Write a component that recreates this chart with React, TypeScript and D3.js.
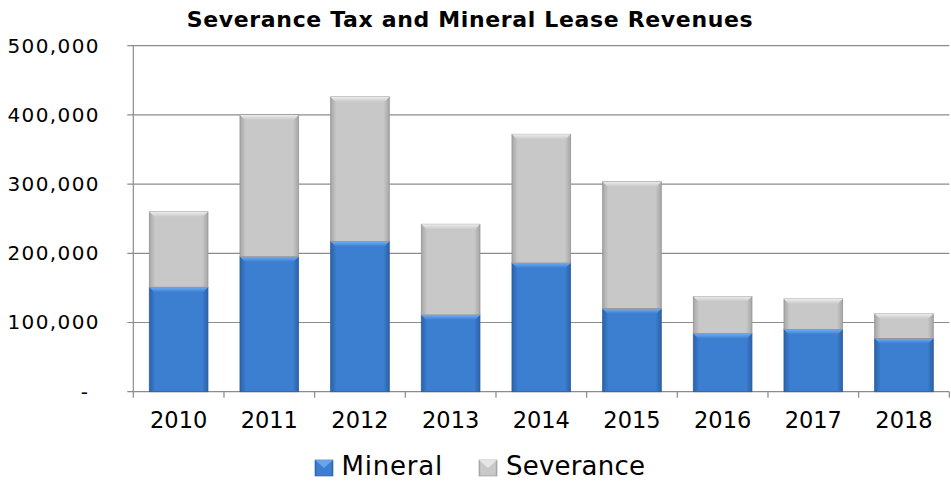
import React from "react";
import * as d3 from "d3";

const years = ["2010", "2011", "2012", "2013", "2014", "2015", "2016", "2017", "2018"];
const mineral = [151000, 195000, 217000, 111000, 186000, 120000, 84000, 90000, 77000];
const severance = [109000, 205000, 209000, 131000, 186000, 183500, 53500, 44000, 35500];
const seriesNames = ["Mineral", "Severance"];
const yTicks = [0, 100000, 200000, 300000, 400000, 500000];
const title = "Severance Tax and Mineral Lease Revenues";

const W = 951;
const H = 481;
const left = 133.3;
const right = 949.3;
const top = 45.7;
const bottom = 391.7;

const font = "'DejaVu Sans', sans-serif";

const palette = {
  Mineral: { base: "#3c7ed0", dark: "#2a62a8", light: "#70aef2", edge: "#2d5f9e" },
  Severance: { base: "#c8c8c8", dark: "#a6a6a6", light: "#ececec", edge: "#959595" },
};

export default function App() {
  const x = d3.scaleBand<string>().domain(years).range([left, right]).paddingInner(0.353).paddingOuter(0.1765);
  const y = d3.scaleLinear().domain([0, 500000]).range([bottom, top]);

  const rows = years.map((yr, i) => ({ year: yr, Mineral: mineral[i], Severance: severance[i] }));
  const stack = d3.stack<any>().keys(seriesNames);
  const layers = stack(rows);

  const fmt = (v: number) => (v === 0 ? "-" : d3.format(",")(v));
  const step = x.step();
  const b = 5;

  return (
    <svg width={W} height={H} style={{ position: "absolute", left: 0, top: 0, background: "#fff" }}>
      <defs>
        {seriesNames.map((k) => {
          const p = (palette as any)[k];
          return (
            <g key={k}>
              <linearGradient id={`h-${k}`} x1="0" x2="1" y1="0" y2="0">
                <stop offset="0" stopColor={p.dark} />
                <stop offset="0.1" stopColor={p.base} />
                <stop offset="0.9" stopColor={p.base} />
                <stop offset="1" stopColor={p.dark} />
              </linearGradient>
              <linearGradient id={`t-${k}`} x1="0" x2="0" y1="0" y2="1">
                <stop offset="0" stopColor={p.light} />
                <stop offset="1" stopColor={p.base} />
              </linearGradient>
            </g>
          );
        })}
      </defs>

      {yTicks.map((t) => (
        <line key={t} x1={left - 6} x2={right} y1={y(t)} y2={y(t)} stroke="#8c8c8c" strokeWidth={1.2} />
      ))}
      <line x1={left} x2={left} y1={top} y2={bottom} stroke="#8c8c8c" strokeWidth={1.2} />
      {years.map((yr) => (
        <line key={yr} x1={(x(yr) as number) - (x.paddingInner() * step) / 2} x2={(x(yr) as number) - (x.paddingInner() * step) / 2} y1={bottom} y2={bottom + 6} stroke="#8c8c8c" strokeWidth={1.2} />
      ))}
      <line x1={right} x2={right} y1={bottom} y2={bottom + 6} stroke="#8c8c8c" strokeWidth={1.2} />

      {layers.map((layer) => {
        const k = layer.key;
        const p = (palette as any)[k];
        return (
          <g key={k}>
            {layer.map((d: any) => {
              const x0 = x(d.data.year) as number;
              const w = x.bandwidth();
              const x1 = x0 + w;
              const y0 = y(d[1]);
              const y1 = y(d[0]);
              return (
                <g key={d.data.year}>
                  <rect x={x0} y={y0} width={w} height={y1 - y0} fill={`url(#h-${k})`} stroke={p.edge} strokeWidth={0.8} />
                  <polygon
                    points={`${x0},${y0} ${x1},${y0} ${x1 - b},${y0 + b} ${x0 + b},${y0 + b}`}
                    fill={`url(#t-${k})`}
                  />
                </g>
              );
            })}
          </g>
        );
      })}

      {yTicks.map((t) => (
        <text
          key={t}
          x={t === 0 ? 88 : 100}
          y={y(t) + 6.8}
          textAnchor="end"
          fontFamily={font}
          fontSize={20}
          letterSpacing={t === 0 ? 0 : 1.4}
          fill="#000"
        >
          {fmt(t)}
        </text>
      ))}

      {years.map((yr) => (
        <text
          key={yr}
          x={(x(yr) as number) + x.bandwidth() / 2}
          y={428.3}
          textAnchor="middle"
          fontFamily={font}
          fontSize={22.5}
          fill="#000"
        >
          {yr}
        </text>
      ))}

      <text x={469.7} y={27} textAnchor="middle" fontFamily={font} fontWeight="bold" fontSize={22} textLength={566} lengthAdjust="spacing" fill="#000">
        {title}
      </text>

      {seriesNames.map((k, i) => {
        const p = (palette as any)[k];
        const bx = i === 0 ? 315 : 479;
        const tx = i === 0 ? 341.5 : 506;
        return (
          <g key={k}>
            <rect x={bx} y={460} width={18} height={16} fill={`url(#h-${k})`} stroke={p.edge} strokeWidth={0.6} />
            <polygon points={`${bx},460 ${bx + 18},460 ${bx + 9},468`} fill={p.light} opacity={0.8} />
            <text x={tx} y={474.5} fontFamily={font} fontSize={26} letterSpacing={i === 0 ? 0.8 : 0.2} fill="#000">
              {k}
            </text>
          </g>
        );
      })}
    </svg>
  );
}
